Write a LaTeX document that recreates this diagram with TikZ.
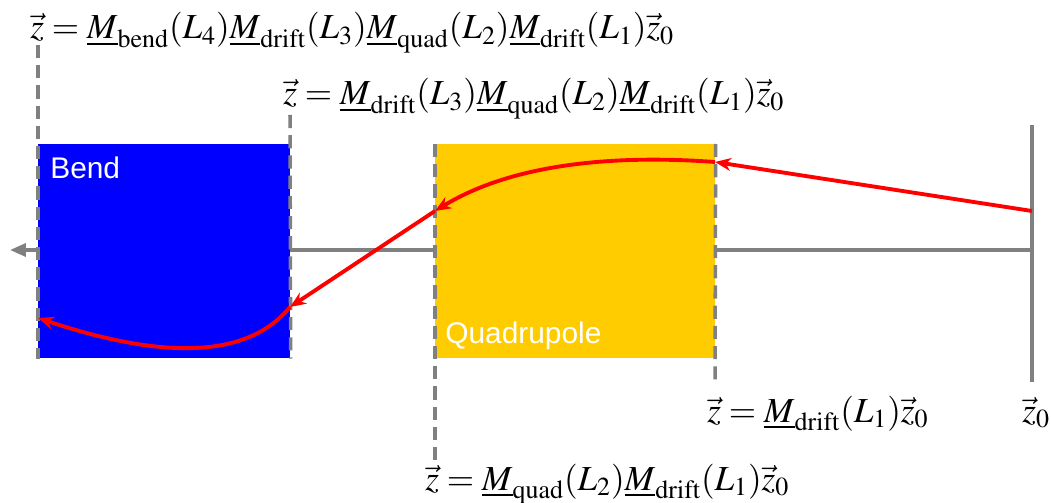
\documentclass[tikz,border=0pt]{standalone}
\usepackage{mathptmx}
\usepackage[no-math]{fontspec}
\newfontfamily\labelfont{Liberation Sans}
\usetikzlibrary{positioning, arrows.meta}
\definecolor{bendblue}{RGB}{0,0,255}
\definecolor{quadyellow}{RGB}{255,204,0}
\definecolor{guidegray}{RGB}{128,128,128}
\newcommand{\Mat}[1]{\underline{M}_{\mathrm{#1}}}
\tikzset{
  element/.style={rectangle, inner sep=0pt, anchor=north west,
    minimum height=4.28cm},
  bendbox/.style={element, fill=bendblue, minimum width=5.04cm},
  quadbox/.style={element, fill=quadyellow, minimum width=5.6cm},
  boxlabel/.style={text=white, inner sep=0pt,
    font=\labelfont\fontsize{17}{20}\selectfont},
  guide/.style={draw=guidegray, line width=2pt, dash pattern=on 7.5pt off 4pt},
  axis/.style={draw=guidegray, line width=2pt},
  ray/.style={draw=red, line width=2.2pt, -{Stealth[length=3.2mm, width=2.6mm]}},
  eqn/.style={font=\fontsize{20}{24}\selectfont, inner sep=0pt, anchor=base west},
}

\begin{document}
\begin{tikzpicture}[x=0.02cm, y=-0.02cm]
  \useasboundingbox (0,0) rectangle (1051,503);

  % Beam axis and source plane
  \coordinate (src) at (1032,250);
  \coordinate (axisend) at (10,250);
  \coordinate (srctop) at (1032,125);
  \coordinate (srcbot) at (1032,382);
  \draw[axis, -{Triangle[length=3.2mm, width=2.6mm]}] (src) -- (axisend);
  \draw[axis] (srctop) -- (srcbot);

  % Elements
  \node[bendbox] (bend) at (38,144) {};
  \node[quadbox] (quad) at (435,144) {};
  \node[boxlabel, anchor=north west] (bendlabel)
    at ([xshift=0.24cm, yshift=-0.26cm]bend.north west) {Bend};
  \node[boxlabel, anchor=base west] (quadlabel)
    at ([xshift=0.2cm, yshift=0.3cm]quad.south west) {Quadrupole};

  % Dashed markers
  \coordinate (top4) at (38,45);
  \coordinate (top3) at (290,115);
  \coordinate (bot2) at (435,460);
  \coordinate (bot1) at (715,385);
  \draw[guide] (top4) -- (bend.south west);
  \draw[guide] (top3) -- (bend.south east);
  \draw[guide] (quad.north west) -- (bot2);
  \draw[guide] (quad.north east) -- (bot1);

  % Trajectory
  \coordinate (p0) at (1032,211);
  \coordinate (p1) at (715,162);
  \coordinate (p2) at (435,211);
  \coordinate (p3) at (290,307);
  \coordinate (p4) at (38,318);
  \draw[ray] (p0) -- (p1);
  \draw[ray] (p1) .. controls (620,155) and (515,162) .. (p2);
  \draw[ray] (p2) -- (p3);
  \draw[ray] (p3) .. controls (250,356) and (170,362) .. (p4);

  % Transfer equations
  \node[eqn] (eq4) at (30,39)
    {$\vec z = \Mat{bend}(L_4)\Mat{drift}(L_3)\Mat{quad}(L_2)\Mat{drift}(L_1)\vec z_0$};
  \node[eqn] (eq3) at (283,105)
    {$\vec z = \Mat{drift}(L_3)\Mat{quad}(L_2)\Mat{drift}(L_1)\vec z_0$};
  \node[eqn] (eq1) at (707,422) {$\vec z = \Mat{drift}(L_1)\vec z_0$};
  \node[eqn] (eq0) at (1022,422) {$\vec z_0$};
  \node[eqn] (eq2) at (425,490)
    {$\vec z = \Mat{quad}(L_2)\Mat{drift}(L_1)\vec z_0$};

\end{tikzpicture}
\end{document}
